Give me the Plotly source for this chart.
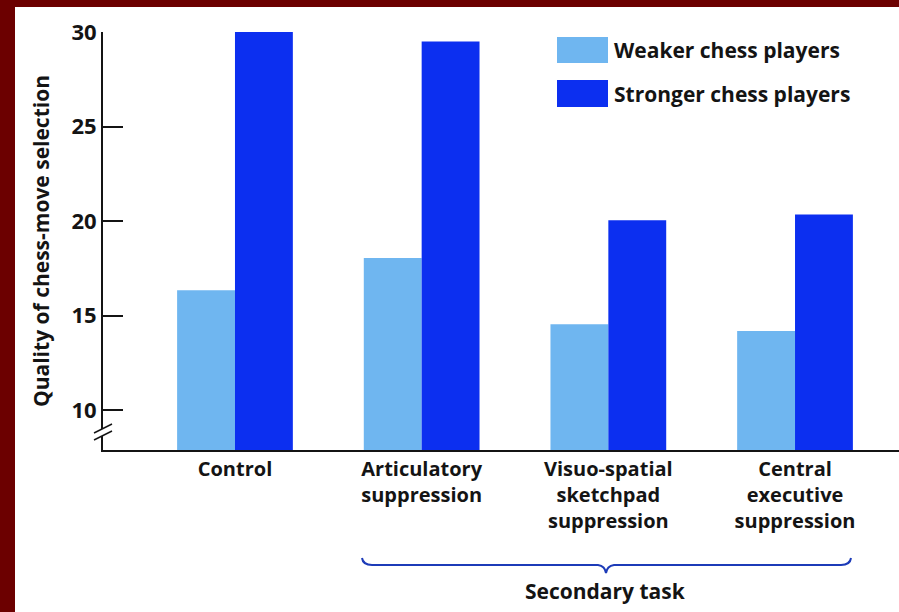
"""Chess-move selection quality under secondary tasks (grouped bars)."""

import plotly.graph_objects as go

categories = ["Control", "Articulatory<br>suppression",
              "Visuo-spatial<br>sketchpad<br>suppression",
              "Central<br>executive<br>suppression"]
weaker = [16.35, 18.05, 14.55, 14.2]
stronger = [30.0, 29.5, 20.05, 20.35]
y_ticks = [10, 15, 20, 25, 30]

WEAK_COLOR = "#6fb6f0"
STRONG_COLOR = "#0c2ff0"
INK = "#141414"
FONT = "Open Sans"

# plot area in pixels (used for decoration placement)
L, R, T, B = 103, 899, 32, 450


def px(x):
    return (x - L) / (R - L)


def py(y):
    return (B - y) / (B - T)


fig = go.Figure()
fig.add_trace(go.Bar(x=categories, y=weaker, name="Weaker chess players",
                     marker={"color": WEAK_COLOR, "line": {"width": 0}}))
fig.add_trace(go.Bar(x=categories, y=stronger, name="Stronger chess players",
                     marker={"color": STRONG_COLOR, "line": {"width": 0}}))

shapes = [
    # white page inside the dark red frame
    dict(type="rect", xref="paper", yref="paper", layer="below",
         x0=px(15), x1=px(899), y0=py(7), y1=py(612),
         fillcolor="white", line={"width": 0}),
    # axis break
    dict(type="path", xref="paper", yref="paper", layer="above",
         path=f"M {px(94)} {py(433)} L {px(112)} {py(424)} L {px(112)} {py(431)} "
              f"L {px(94)} {py(440)} Z",
         fillcolor="white", line={"width": 0}),
    dict(type="line", xref="paper", yref="paper", layer="above",
         x0=px(94), y0=py(433), x1=px(112), y1=py(424),
         line={"color": INK, "width": 1.5}),
    dict(type="line", xref="paper", yref="paper", layer="above",
         x0=px(94), y0=py(440), x1=px(112), y1=py(431),
         line={"color": INK, "width": 1.5}),
    # curly brace under the secondary tasks
    dict(type="path", xref="paper", yref="paper", layer="above",
         path=(f"M {px(362)} {py(558)} Q {px(363)} {py(565)} {px(372)} {py(565)} "
               f"L {px(598)} {py(565)} Q {px(605)} {py(566)} {px(606)} {py(573)} "
               f"Q {px(607)} {py(566)} {px(614)} {py(565)} "
               f"L {px(841)} {py(565)} Q {px(850)} {py(565)} {px(851)} {py(558)}"),
         line={"color": "#1c3bb8", "width": 2}),
    # legend swatches
    dict(type="rect", xref="paper", yref="paper", layer="above",
         x0=px(557), x1=px(608), y0=py(63), y1=py(37),
         fillcolor=WEAK_COLOR, line={"width": 0}),
    dict(type="rect", xref="paper", yref="paper", layer="above",
         x0=px(557), x1=px(608), y0=py(107), y1=py(80),
         fillcolor=STRONG_COLOR, line={"width": 0}),
]

text_font = {"family": FONT, "size": 21, "color": INK, "weight": 700}
annotations = [
    dict(xref="paper", yref="paper", x=px(612), y=py(50), xanchor="left",
         yanchor="middle", text="Weaker chess players", showarrow=False,
         font=text_font),
    dict(xref="paper", yref="paper", x=px(612), y=py(94), xanchor="left",
         yanchor="middle", text="Stronger chess players", showarrow=False,
         font=text_font),
    dict(xref="paper", yref="paper", x=px(605), y=py(591), xanchor="center",
         yanchor="middle", text="Secondary task", showarrow=False,
         font=text_font),
]

fig.update_layout(
    width=899,
    height=612,
    barmode="group",
    bargap=0.38,
    bargroupgap=0,
    showlegend=False,
    paper_bgcolor="#6c0000",
    plot_bgcolor="white",
    margin={"l": L, "r": 899 - R, "t": T, "b": 612 - B},
    font={"family": FONT, "color": INK},
    shapes=shapes,
    annotations=annotations,
    xaxis={
        "type": "category",
        "range": [-0.707, 3.557],
        "showline": True,
        "linecolor": INK,
        "linewidth": 2,
        "ticks": "",
        "showgrid": False,
        "zeroline": False,
        "tickfont": {"family": FONT, "size": 20, "color": INK, "weight": 700},
    },
    yaxis={
        "range": [7.906, 30],
        "tickvals": y_ticks,
        "showline": True,
        "linecolor": INK,
        "linewidth": 2,
        "ticks": "inside",
        "ticklen": 20,
        "tickwidth": 2,
        "tickcolor": INK,
        "showgrid": False,
        "zeroline": False,
        "tickfont": {"family": FONT, "size": 22, "color": INK, "weight": 700},
        "title": {"text": "Quality of chess-move selection", "standoff": 16,
                  "font": {"family": FONT, "size": 21, "color": INK,
                           "weight": 700}},
    },
)

# drop the browser's default page margin so the figure sits at the corner
fig.write_html("out.html", config={"displayModeBar": False},
               post_script="document.body.style.margin = '0';")
